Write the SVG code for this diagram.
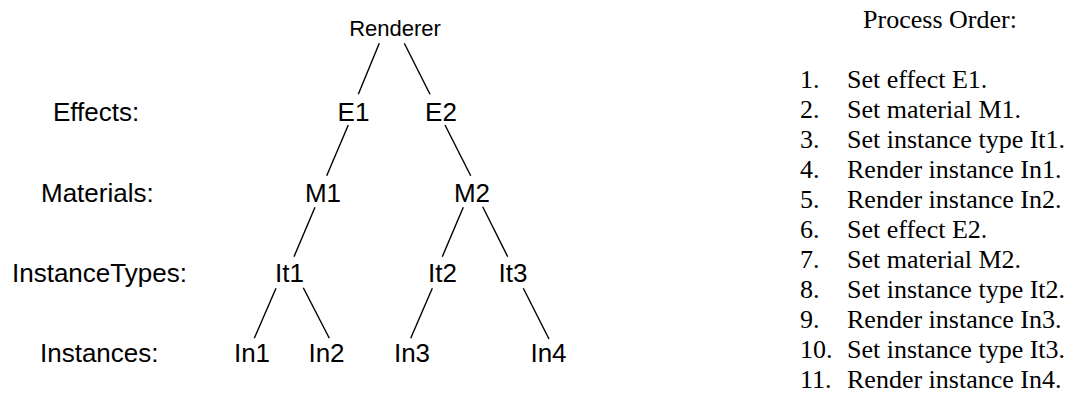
<svg xmlns="http://www.w3.org/2000/svg" width="1074" height="398" viewBox="0 0 1074 398">
  <style>
    .lbl { font-family: "Liberation Sans", Arial, sans-serif; font-size: 26px; fill: #000; }
    .node { font-family: "Liberation Sans", Arial, sans-serif; font-size: 26px; fill: #000; text-anchor: middle; }
    .root { font-size: 22px; }
    .step { font-family: "Liberation Serif", "Times New Roman", serif; font-size: 26px; fill: #000; }
    .edge { stroke: #000; stroke-width: 1.4; fill: none; }
  </style>
  <rect width="1074" height="398" fill="#fff"/>

  <!-- level captions -->
  <g id="captions">
    <text class="lbl" x="53" y="121">Effects:</text>
    <text class="lbl" x="41" y="202">Materials:</text>
    <text class="lbl" x="12" y="282">InstanceTypes:</text>
    <text class="lbl" x="40" y="362">Instances:</text>
  </g>

  <!-- tree edges -->
  <g id="connectors">
    <line class="edge" x1="379.3" y1="43.3" x2="358.3" y2="94.3"/>
    <line class="edge" x1="404.3" y1="43.3" x2="430" y2="94.3"/>
    <line class="edge" x1="348.3" y1="125" x2="326.7" y2="175.7"/>
    <line class="edge" x1="445" y1="125" x2="470.7" y2="175.7"/>
    <line class="edge" x1="315" y1="207.3" x2="294" y2="256.7"/>
    <line class="edge" x1="463.3" y1="207.3" x2="442.3" y2="256.7"/>
    <line class="edge" x1="482.7" y1="206.7" x2="507.7" y2="256.7"/>
    <line class="edge" x1="276" y1="288.3" x2="254.3" y2="338.3"/>
    <line class="edge" x1="303.3" y1="287.7" x2="329.3" y2="338.3"/>
    <line class="edge" x1="432.3" y1="288.3" x2="410.7" y2="338.3"/>
    <line class="edge" x1="523.3" y1="288.3" x2="549" y2="339"/>
  </g>

  <!-- tree nodes -->
  <g id="renderer"><text class="node root" x="395" y="36">Renderer</text></g>
  <g id="e1"><text class="node" x="353.5" y="121">E1</text></g>
  <g id="e2"><text class="node" x="441" y="121">E2</text></g>
  <g id="m1"><text class="node" x="323" y="202">M1</text></g>
  <g id="m2"><text class="node" x="472" y="202">M2</text></g>
  <g id="it1"><text class="node" x="289.5" y="282">It1</text></g>
  <g id="it2"><text class="node" x="442.5" y="282">It2</text></g>
  <g id="it3"><text class="node" x="513" y="282">It3</text></g>
  <g id="in1"><text class="node" x="252" y="362">In1</text></g>
  <g id="in2"><text class="node" x="326.5" y="362">In2</text></g>
  <g id="in3"><text class="node" x="412" y="362">In3</text></g>
  <g id="in4"><text class="node" x="548.5" y="362">In4</text></g>

  <!-- processing order list -->
  <g id="process-order">
    <text class="step" x="940" y="28" text-anchor="middle">Process Order:</text>
    <text class="step" x="800" y="88">1.</text><text class="step" x="847" y="88">Set effect E1.</text>
    <text class="step" x="800" y="118">2.</text><text class="step" x="847" y="118">Set material M1.</text>
    <text class="step" x="800" y="148">3.</text><text class="step" x="847" y="148">Set instance type It1.</text>
    <text class="step" x="800" y="178">4.</text><text class="step" x="847" y="178">Render instance In1.</text>
    <text class="step" x="800" y="208">5.</text><text class="step" x="847" y="208">Render instance In2.</text>
    <text class="step" x="800" y="238">6.</text><text class="step" x="847" y="238">Set effect E2.</text>
    <text class="step" x="800" y="268">7.</text><text class="step" x="847" y="268">Set material M2.</text>
    <text class="step" x="800" y="298">8.</text><text class="step" x="847" y="298">Set instance type It2.</text>
    <text class="step" x="800" y="328">9.</text><text class="step" x="847" y="328">Render instance In3.</text>
    <text class="step" x="800" y="358">10.</text><text class="step" x="847" y="358">Set instance type It3.</text>
    <text class="step" x="800" y="388">11.</text><text class="step" x="847" y="388">Render instance In4.</text>
  </g>
</svg>
